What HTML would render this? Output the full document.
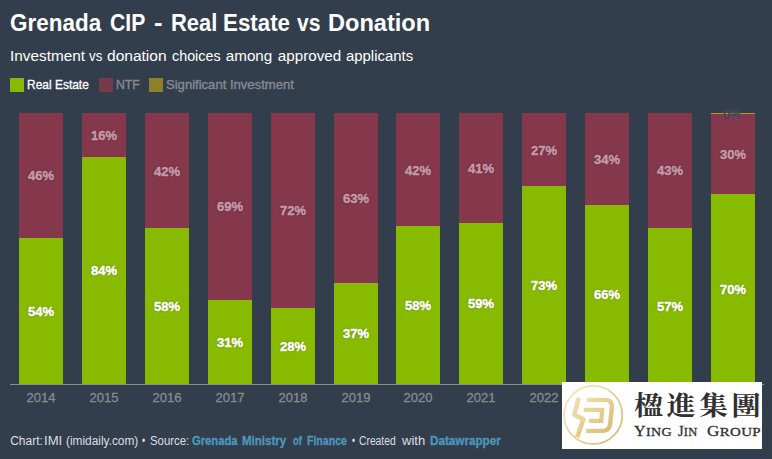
<!DOCTYPE html>
<html><head><meta charset="utf-8">
<style>
html,body{margin:0;padding:0;}
body{width:772px;height:459px;background:#333e4d;position:relative;overflow:hidden;font-family:"Liberation Sans",sans-serif;color:#fff;}
.abs{position:absolute;white-space:nowrap;}
#title{left:0;top:9px;font-size:23px;font-weight:bold;line-height:28px;}
#sub{left:0;top:46px;font-size:15.2px;line-height:20px;}
#title span,#sub span{position:absolute;top:0;transform-origin:0 50%}
.lg{top:79px;height:12px;font-size:13px;line-height:12px;transform-origin:0 50%;}
.sq{position:absolute;width:14px;height:14px;top:78px;}
.bar{position:absolute;width:44px;top:113px;height:271px;background:#85374b;}
.g{position:absolute;left:0;right:0;bottom:0;background:#88ba00;}
.lab{position:absolute;left:-8px;right:-8px;text-align:center;font-size:13px;font-weight:bold;line-height:14px;-webkit-text-stroke:0.45px currentColor;}
.lab.n{color:#c49caa;text-shadow:0 0 2px rgba(85,25,45,0.9);}
.lab.r{color:#fff;text-shadow:0 0 2px rgba(70,100,0,0.9);}
.xl{-webkit-text-stroke:0.3px #878b94;position:absolute;top:391px;width:60px;text-align:center;font-size:13px;color:#878b94;line-height:14px;}
#base{position:absolute;left:10px;width:754px;top:384px;height:1px;background:#8a8e96;}
#foot{left:0;top:434px;font-size:12px;line-height:14px;color:#dcdfe3;}
#foot b{color:#4c97bb;-webkit-text-stroke:0.3px #4c97bb;}
#foot span,#foot b{position:absolute;top:0;transform-origin:0 50%}
#wm{position:absolute;left:562px;top:382px;width:200px;height:67px;background:#fff;}
#wmsvg{position:absolute;left:560px;top:380px;width:70px;height:70px;}
#cn{position:absolute;left:633.6px;top:388.8px;transform-origin:0 0;transform:scale(1.08,0.965);font-family:"Liberation Serif","Noto Serif CJK SC",serif;font-weight:bold;font-size:27px;line-height:36px;letter-spacing:3.1px;color:#303030;white-space:nowrap;}
#en{position:absolute;left:633.6px;top:420.5px;font-family:"Liberation Serif",serif;font-size:13.4px;letter-spacing:0.3px;-webkit-text-stroke:0.3px #303030;line-height:20px;color:#303030;white-space:nowrap;}
#en span{position:absolute;top:0;transform-origin:0 50%}
#en i{font-style:normal;font-size:15.4px;}
</style></head><body>
<div id="title" class="abs"><span style="left:10.2px;transform:scaleX(0.977)">Grenada</span> <span style="left:109.6px;transform:scaleX(0.92)">CIP</span> <span style="left:154.2px;transform:scaleX(1.116)">-</span> <span style="left:170.8px;transform:scaleX(0.951)">Real</span> <span style="left:223.2px;transform:scaleX(0.97)">Estate</span> <span style="left:297.2px;transform:scaleX(0.918)">vs</span> <span style="left:327.7px;transform:scaleX(1.025)">Donation</span></div>
<div id="sub" class="abs"><span style="left:9.8px;transform:scaleX(1.01)">Investment</span> <span style="left:89.2px;transform:scaleX(0.874)">vs</span> <span style="left:106.9px;transform:scaleX(1.022)">donation</span> <span style="left:171.8px;transform:scaleX(0.944)">choices</span> <span style="left:225.8px;transform:scaleX(1.0)">among</span> <span style="left:277.8px;transform:scaleX(1.0)">approved</span> <span style="left:345.8px;transform:scaleX(0.981)">applicants</span></div>
<div class="sq" style="left:10px;background:#88ba00"></div><div class="abs lg" style="left:27px;-webkit-text-stroke:0.3px #fff;transform:scaleX(0.92)">Real Estate</div>
<div class="sq" style="left:99px;background:#78394b"></div><div class="abs lg" style="left:116px;color:#878b94;-webkit-text-stroke:0.35px #878b94;transform:scaleX(0.94)">NTF</div>
<div class="sq" style="left:149px;background:#8c8128"></div><div class="abs lg" style="left:166px;color:#878b94;-webkit-text-stroke:0.35px #878b94;transform:scaleX(1.005)">Significant Investment</div>
<div id="chart">
<div class="bar" style="left:19.0px"><div class="lab n" style="top:56.4px">46%</div><div class="g" style="height:146.2px"><div class="lab r" style="top:67.1px">54%</div></div></div>
<div class="xl" style="left:11.0px">2014</div>
<div class="bar" style="left:82.0px"><div class="lab n" style="top:16.0px">16%</div><div class="g" style="height:227.1px"><div class="lab r" style="top:107.5px">84%</div></div></div>
<div class="xl" style="left:74.0px">2015</div>
<div class="bar" style="left:145.0px"><div class="lab n" style="top:51.5px">42%</div><div class="g" style="height:156.0px"><div class="lab r" style="top:72.0px">58%</div></div></div>
<div class="xl" style="left:137.0px">2016</div>
<div class="bar" style="left:208.0px"><div class="lab n" style="top:87.3px">69%</div><div class="g" style="height:84.3px"><div class="lab r" style="top:36.2px">31%</div></div></div>
<div class="xl" style="left:200.0px">2017</div>
<div class="bar" style="left:271.0px"><div class="lab n" style="top:91.3px">72%</div><div class="g" style="height:76.3px"><div class="lab r" style="top:32.2px">28%</div></div></div>
<div class="xl" style="left:263.0px">2018</div>
<div class="bar" style="left:334.0px"><div class="lab n" style="top:78.8px">63%</div><div class="g" style="height:101.4px"><div class="lab r" style="top:44.7px">37%</div></div></div>
<div class="xl" style="left:326.0px">2019</div>
<div class="bar" style="left:396.0px"><div class="lab n" style="top:50.5px">42%</div><div class="g" style="height:158.0px"><div class="lab r" style="top:73.0px">58%</div></div></div>
<div class="xl" style="left:388.0px">2020</div>
<div class="bar" style="left:459.0px"><div class="lab n" style="top:49.0px">41%</div><div class="g" style="height:161.1px"><div class="lab r" style="top:74.5px">59%</div></div></div>
<div class="xl" style="left:451.0px">2021</div>
<div class="bar" style="left:522.0px"><div class="lab n" style="top:30.5px">27%</div><div class="g" style="height:198.1px"><div class="lab r" style="top:93.0px">73%</div></div></div>
<div class="xl" style="left:514.0px">2022</div>
<div class="bar" style="left:585.0px"><div class="lab n" style="top:40.0px">34%</div><div class="g" style="height:179.1px"><div class="lab r" style="top:83.5px">66%</div></div></div>
<div class="xl" style="left:577.0px">2023</div>
<div class="bar" style="left:648.0px"><div class="lab n" style="top:51.3px">43%</div><div class="g" style="height:156.3px"><div class="lab r" style="top:72.2px">57%</div></div></div>
<div class="xl" style="left:640.0px">2024</div>
<div class="bar" style="left:711.0px"><div style="position:absolute;left:0;right:0;top:0;height:1px;background:#ad9c30"></div><div class="lab" style="top:-5px;left:-10px;font-size:12px;color:#3a3847;font-weight:normal;-webkit-text-stroke:0.4px #3a3847;text-shadow:0 0 1.5px rgba(220,200,210,0.55)">0%</div><div class="lab n" style="top:34.5px">30%</div><div class="g" style="height:189.9px"><div class="lab r" style="top:89.0px">70%</div></div></div>
<div class="xl" style="left:703.0px">2025</div>
</div>
<div id="base"></div>
<div id="foot" class="abs"><span style="left:10.2px;transform:scaleX(1.0)">Chart:</span> <span style="left:44.2px;transform:scaleX(1.092)">IMI</span> <span style="left:66.0px;transform:scaleX(0.989)">(imidaily.com)</span> <span style="left:142.2px;transform:scaleX(0.748)">•</span> <span style="left:149.8px;transform:scaleX(0.95)">Source:</span> <b style="left:191.6px;transform:scaleX(0.936)">Grenada</b> <b style="left:241.9px;transform:scaleX(0.958)">Ministry</b> <b style="left:293.2px;transform:scaleX(0.778)">of</b> <b style="left:307.0px;transform:scaleX(0.879)">Finance</b> <span style="left:351.6px;transform:scaleX(0.71)">•</span> <span style="left:358.5px;transform:scaleX(0.859)">Created</span> <span style="left:402.0px;transform:scaleX(1.086)">with</span> <b style="left:430.1px;transform:scaleX(0.974)">Datawrapper</b></div>
<div id="wm"></div>
<svg id="wmsvg" viewBox="560 380 70 70">
<defs><linearGradient id="gd" gradientUnits="userSpaceOnUse" x1="570" y1="392" x2="616" y2="438"><stop offset="0" stop-color="#f3e7ba"/><stop offset="0.5" stop-color="#e6cf95"/><stop offset="1" stop-color="#d9b66c"/></linearGradient></defs>
<circle cx="593.2" cy="414.9" r="29.1" fill="none" stroke="url(#gd)" stroke-width="1.7"/>
<path d="M578.7 397.7 L574.4 414.6 L583.3 419.2 L577.2 437.2" fill="none" stroke="url(#gd)" stroke-width="4.6" stroke-linejoin="round"/>
<path d="M587.2 399.9 L605.5 399.9 Q612.6 399.9 611.8 407.5 L610.2 423.6 Q609.4 430.9 602.6 430.9 L586.2 430.9" fill="none" stroke="url(#gd)" stroke-width="4.4"/>
<path d="M583.8 409.8 L602.2 409.8 L601.2 420.8 L588.9 420.8" fill="none" stroke="url(#gd)" stroke-width="4.2"/>
</svg>
<div id="cn">楹進集團</div>
<div id="en"><span style="left:0;transform:scaleX(1.05)"><i>Y</i>ING</span> <span style="left:44.6px;transform:scaleX(0.93)"><i>J</i>IN</span> <span style="left:73.6px;transform:scaleX(1.115)"><i>G</i>ROUP</span></div>
</body></html>
